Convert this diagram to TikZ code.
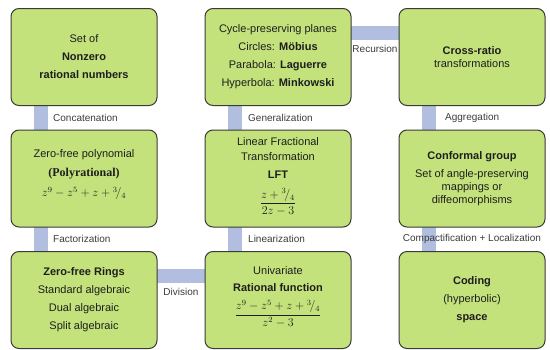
\documentclass[tikz,border=0pt]{standalone}
\usepackage{fontspec}
\setmainfont{Liberation Sans}
\newfontfamily\serifbf{Liberation Serif}
\usepackage{amsmath}
\usetikzlibrary{backgrounds,calc}
\definecolor{boxfill}{HTML}{C3E27B}
\definecolor{barcol}{HTML}{B1BEDF}
\definecolor{edgecol}{HTML}{3A3A3A}
\definecolor{txtcol}{HTML}{1E1E1E}
\definecolor{lblcol}{HTML}{3C3C3C}
\newcommand{\tq}{{}^{3}\!/_{4}}
\newcommand{\mfs}{\fontsize{12}{14}\selectfont}
\begin{document}
\begin{tikzpicture}[x=1pt,y=-1pt,
 box/.style={draw=edgecol, line width=1pt, fill=boxfill, rounded corners=8pt, minimum width=146pt, minimum height=97pt, inner sep=0pt},
 txtnode/.style={align=center, text=txtcol, font=\fontsize{11}{18}\selectfont, inner sep=0pt},
 bar/.style={draw=barcol, line width=14pt},
 lbl/.style={text=lblcol, font=\fontsize{10}{12}\selectfont, inner sep=0pt}]
\useasboundingbox (0,0) rectangle (550,349);
% boxes
\node[box] (b11) at (84,57) {};
\node[box] (b12) at (278,57) {};
\node[box] (b13) at (472,57) {};
\node[box] (b21) at (84,178.5) {};
\node[box] (b22) at (278,178.5) {};
\node[box] (b23) at (472,178.5) {};
\node[box] (b31) at (84,300) {};
\node[box] (b32) at (278,300) {};
\node[box] (b33) at (472,300) {};
% texts
\node[txtnode] (t11) at (b11.center) {Set of\\\textbf{Nonzero}\\\textbf{rational numbers}};
\node[txtnode] (t12) at (b12.center) {Cycle-preserving planes\\Circles: \textbf{Möbius}\\Parabola: \textbf{Laguerre}\\Hyperbola: \textbf{Minkowski}};
\node[txtnode] (t13) at (b13.center) {\textbf{Cross-ratio}\\[-5pt]transformations};
\node[txtnode, yshift=4pt] (t21) at (b21.center) {Zero-free polynomial\\[1pt]{\serifbf\bfseries\fontsize{12}{14}\selectfont (Polyrational)}\\[2pt]{\mfs$z^9-z^5+z+\tq$}};
\node[txtnode, yshift=2pt] (t22) at (b22.center) {Linear Fractional\\[-3pt]Transformation\\\textbf{LFT}\\[10pt]{\mfs$\dfrac{z+\tq}{2z-3}$}};
\node[txtnode] (t23) at (b23.center) {\textbf{Conformal group}\\Set of angle-preserving\\[-5pt]mappings or\\[-5pt]diffeomorphisms};
\node[txtnode] (t31) at (b31.center) {\textbf{Zero-free Rings}\\Standard algebraic\\Dual algebraic\\Split algebraic};
\node[txtnode, yshift=3pt] (t32) at (b32.center) {Univariate\\[-1pt]\textbf{Rational function}\\[8pt]{\mfs$\dfrac{z^9-z^5+z+\tq}{z^2-3}$}};
\node[txtnode] (t33) at (b33.center) {\textbf{Coding}\\(hyperbolic)\\\textbf{space}};
% connectors
\begin{scope}[on background layer]
\draw[bar] ([xshift=-43.5pt]b11.center) -- ([xshift=-43.5pt]b21.center);
\draw[bar] ([xshift=-43.5pt]b21.center) -- ([xshift=-43.5pt]b31.center);
\draw[bar] ([xshift=-43.5pt]b12.center) -- ([xshift=-43.5pt]b22.center);
\draw[bar] ([xshift=-43.5pt]b22.center) -- ([xshift=-43.5pt]b32.center);
\draw[bar] ([xshift=-43.5pt]b13.center) -- ([xshift=-43.5pt]b23.center);
\draw[bar] ([xshift=-43.5pt]b23.center) -- ([xshift=-43.5pt]b33.center);
\draw[bar] ([yshift=24.5pt]b12.center) -- ([yshift=24.5pt]b13.center);
\draw[bar] ([yshift=24.5pt]b31.center) -- ([yshift=24.5pt]b32.center);
\end{scope}
% labels
\node[lbl, anchor=west, xshift=-31pt] (l1) at ($(b11.south)!.5!(b21.north)$) {Concatenation};
\node[lbl, anchor=west, xshift=-31pt] (l2) at ($(b21.south)!.5!(b31.north)$) {Factorization};
\node[lbl, anchor=west, xshift=-30pt] (l3) at ($(b12.south)!.5!(b22.north)$) {Generalization};
\node[lbl, anchor=west, xshift=-30pt] (l4) at ($(b22.south)!.5!(b32.north)$) {Linearization};
\node[lbl, anchor=west, xshift=-27pt] (l5) at ($(b13.south)!.5!(b23.north)$) {Aggregation};
\node[lbl] (l6) at ($(b23.south)!.5!(b33.north)$) {Compactification + Localization};
\node[lbl, yshift=8pt] (l7) at ($(b12.east)!.5!(b13.west)$) {Recursion};
\node[lbl, yshift=8pt] (l8) at ($(b31.east)!.5!(b32.west)$) {Division};
\end{tikzpicture}
\end{document}
